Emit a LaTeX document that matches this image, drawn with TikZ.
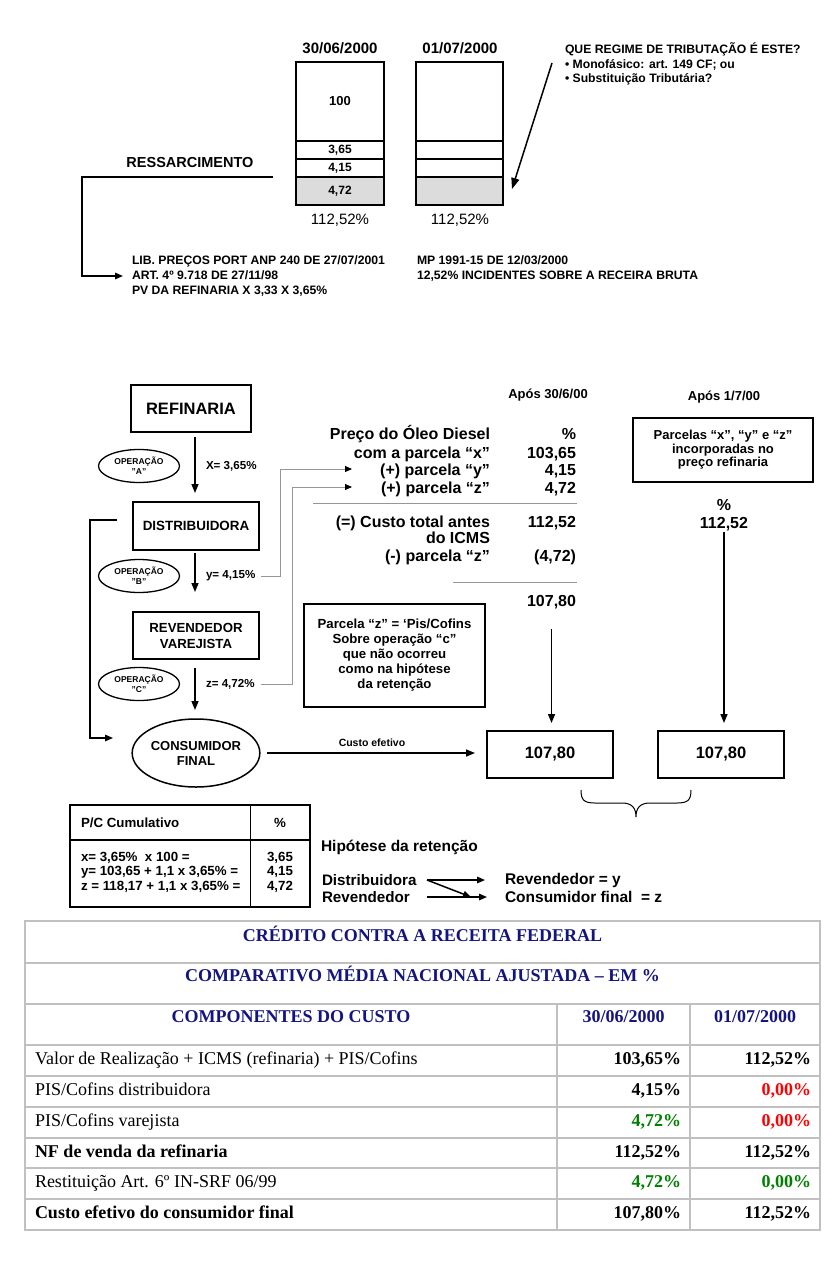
\documentclass[tikz,border=0pt]{standalone}
\usepackage{fontspec}
\setmainfont{Liberation Sans}
\newfontfamily\tnr{Liberation Serif}
\usetikzlibrary{shapes.geometric,arrows.meta}
\newcommand\myfs[2]{\fontsize{#1}{#2}\selectfont}
\definecolor{navyt}{RGB}{20,20,128}
\definecolor{okgreen}{RGB}{0,128,0}
\definecolor{tgrid}{RGB}{192,192,192}
\definecolor{shadec}{RGB}{220,220,220}
\definecolor{gline}{RGB}{150,150,150}
\begin{document}
\begin{tikzpicture}[x=1pt,y=-1pt,
  every node/.style={inner sep=0pt,outer sep=0pt},
  cell/.style={draw,line width=1.6pt,minimum width=88pt,font=\bfseries\myfs{12}{14}},
  bx/.style={draw,line width=1.5pt,align=center},
  opel/.style={draw,ellipse,line width=1.3pt,minimum width=81pt,minimum height=33pt,align=center,font=\bfseries\myfs{8.5}{10}},
  arr/.style={line width=1.5pt,-{Triangle[length=9pt,width=7pt]}},
  thinarr/.style={line width=1.5pt,-{Triangle[length=8pt,width=6.5pt]}},
  garr/.style={draw=gline,line width=0.9pt,-{Triangle[length=7pt,width=6pt,color=black]}},
  rule/.style={draw=gline,line width=1pt},
  lbl/.style={font=\bfseries\myfs{11.6}{13},anchor=west},
  big/.style={font=\bfseries\myfs{16}{18}},
  tg/.style={draw=tgrid,line width=2pt},
  ttl/.style={font=\tnr\bfseries\myfs{18}{20},text=navyt,anchor=base},
  tl/.style={font=\tnr\myfs{18}{20},anchor=base west},
  tv/.style={font=\tnr\bfseries\myfs{18}{20},anchor=base east}
]
\useasboundingbox (0,0) rectangle (834,1261);
\fill[white] (0,0) rectangle (834,1261);

% ---------------- top section ----------------
\node[font=\bfseries\myfs{15}{16}] (d1) at (340,48) {30/06/2000};
\node[font=\bfseries\myfs{15}{16}] (d2) at (460,48) {01/07/2000};

\node[cell,minimum height=79pt,font=\bfseries\myfs{13}{14}] (l100) at (340,101.5) {100};
\node[cell,minimum height=18pt] (l365) at (340,150) {3,65};
\node[cell,minimum height=18pt] (l415) at (340,168) {4,15};
\node[cell,minimum height=28pt,fill=shadec] (l472) at (340,191) {4,72};

\node[cell,minimum width=87pt,minimum height=79pt] (r100) at (459.5,101.5) {};
\node[cell,minimum width=87pt,minimum height=18pt] (r365) at (459.5,150) {};
\node[cell,minimum width=87pt,minimum height=18pt] (r415) at (459.5,168) {};
\node[cell,minimum width=87pt,minimum height=28pt,fill=shadec] (r472) at (459.5,191) {};

\node[font=\myfs{15}{17}] (p1) at (340,220) {112,52\%};
\node[font=\myfs{15}{17}] (p2) at (460,220) {112,52\%};

\node[font=\bfseries\myfs{14.5}{16}] (ress) at (190,163) {RESSARCIMENTO};
\coordinate (rs) at (273,177);
\node[font=\bfseries\myfs{12.2}{15},align=left,anchor=west] (lib) at (132,276)
  {LIB. PREÇOS PORT ANP 240 DE 27/07/2001\\ART. 4º 9.718 DE 27/11/98\\PV DA REFINARIA X 3,33 X 3,65\%};
\draw[thinarr,shorten >=9pt] (rs) -- (82,177) |- (lib.west);

\node[font=\bfseries\myfs{12.2}{15},align=left,anchor=west] (mp) at (417,268.5)
  {MP 1991-15 DE 12/03/2000\\12,52\% INCIDENTES SOBRE A RECEIRA BRUTA};

\node[font=\bfseries\myfs{12.2}{14.5},align=left,anchor=north west] (que) at (565,43)
  {QUE REGIME DE TRIBUTAÇÃO É ESTE?\\• Monofásico: art. 149 CF; ou\\• Substituição Tributária?};
\coordinate (q0) at (552,63);
\coordinate (q1) at (512,189);
\draw[line width=1.5pt,-{Triangle[length=11pt,width=8pt]}] (q0) -- (q1);

% ---------------- middle flow ----------------
\coordinate (ax) at (195,0);
\node[bx,minimum width=120pt,minimum height=47pt,font=\bfseries\myfs{16.5}{18}] (refin) at (191,408.5) {REFINARIA};
\node[bx,minimum width=126pt,minimum height=48pt,font=\bfseries\myfs{13.4}{15}] (dist) at (196,526) {DISTRIBUIDORA};
\node[bx,minimum width=126pt,minimum height=47pt,font=\bfseries\myfs{13.2}{16}] (rev) at (196,635.5) {REVENDEDOR\\VAREJISTA};
\node[draw,ellipse,line width=1.5pt,minimum width=127pt,minimum height=68pt,align=center,font=\bfseries\myfs{13}{15}] (cons) at (196,753) {CONSUMIDOR\\FINAL};

\node[opel] (opA) at (139,466) {OPERAÇÃO\\"A"};
\node[opel] (opB) at (139,576) {OPERAÇÃO\\"B"};
\node[opel] (opC) at (139,684) {OPERAÇÃO\\"C"};

\node[lbl] (xlab) at (206,466) {X= 3,65\%};
\node[lbl] (ylab) at (206,576) {y= 4,15\%};
\node[lbl] (zlab) at (206,684) {z= 4,72\%};

\draw[arr,shorten <=5pt,shorten >=9pt] (refin.south -| ax) -- (dist.north -| ax);
\draw[arr,shorten <=3pt,shorten >=20pt] (dist.south -| ax) -- (rev.north -| ax);
\draw[arr,shorten <=9pt,shorten >=9pt] (rev.south -| ax) -- (cons.north -| ax);

\coordinate (l0) at (117,520);
\coordinate (l1) at (113,738);
\draw[thinarr] (l0) -- (90,520) |- (l1);

% ---------------- price computation ----------------
\node[font=\bfseries\myfs{13}{15}] (ap1) at (548,395) {Após 30/6/00};
\node[font=\bfseries\myfs{13}{15}] (ap2) at (724,397) {Após 1/7/00};

\node[big,anchor=base east] (pre) at (490,439) {Preço do Óleo Diesel};
\node[big,anchor=base east] (prep) at (576,439) {\%};
\node[big,anchor=base east] (cx) at (490,458) {com a parcela “x”};
\node[big,anchor=base east] (cxv) at (576,458) {103,65};
\node[big,anchor=base east] (py) at (490,475) {(+) parcela “y”};
\node[big,anchor=base east] (pyv) at (576,475) {4,15};
\node[big,anchor=base east] (pz) at (490,493) {(+) parcela “z”};
\node[big,anchor=base east] (pzv) at (576,493) {4,72};
\draw[rule] (313,503) -- (577,503);
\node[big,anchor=base east] (ct) at (490,527) {(=) Custo total antes};
\node[big,anchor=base east] (ctv) at (576,527) {112,52};
\node[big,anchor=base east] (icms) at (490,543) {do ICMS};
\node[big,anchor=base east] (mz) at (490,561) {(-) parcela “z”};
\node[big,anchor=base east] (mzv) at (576,561) {(4,72)};
\draw[rule] (453,582) -- (577,582);
\node[big,anchor=base east] (v) at (576,606) {107,80};

\coordinate (gyE) at (352,469);
\coordinate (gzE) at (352,487);
\draw[garr] ([xshift=6pt]ylab.east) -| (280,469) -- (gyE);
\draw[garr] ([xshift=6pt]zlab.east) -| (292,487) -- (gzE);

\node[bx,minimum width=181pt,minimum height=103pt,font=\bfseries\myfs{13.2}{15}] (pzbox) at (394.5,655.5)
  {Parcela “z” = `Pis/Cofins\\Sobre operação “c”\\que não ocorreu\\como na hipótese\\da retenção};

\node[bx,minimum width=180pt,minimum height=64pt,font=\bfseries\myfs{13}{13.6}] (pbox) at (723,450)
  {Parcelas “x”, “y” e “z”\\incorporadas no\\preço refinaria};
\node[big] (pc2) at (724,505) {\%};
\node[big] (t2) at (724,524) {112,52};

\node[bx,minimum width=126pt,minimum height=47pt,font=\bfseries\myfs{16.5}{18}] (r1) at (550,754.5) {107,80};
\node[bx,minimum width=126pt,minimum height=47pt,font=\bfseries\myfs{16.5}{18}] (r2) at (721,754.5) {107,80};

\draw[arr,shorten <=21pt,shorten >=8pt] (v.south) -- (v.south |- r1.north);
\draw[arr,shorten <=1pt,shorten >=8pt] (t2.south) -- (t2.south |- r2.north);
\draw[arr,shorten <=7pt,shorten >=12pt] (cons.east) -- (cons.east -| r1.west);
\node[font=\bfseries\myfs{10.5}{12}] (ce) at (372,743) {Custo efetivo};

% brace
\draw[line width=1pt] (581,790) .. controls (581,800) and (584,803) .. (595,803) -- (622,803)
  .. controls (632,803) and (636,808) .. (636,817) .. controls (636,808) and (640,803) .. (650,803)
  -- (677,803) .. controls (688,803) and (691,800) .. (691,790);

% ---------------- P/C cumulativo table ----------------
\draw[line width=1.8pt] (70,805) rectangle (310,907);
\draw[line width=1.8pt] (250.5,805) -- (250.5,907);
\draw[line width=1.8pt] (70,840) -- (310,840);
\node[font=\bfseries\myfs{13.3}{15},anchor=west] (pch) at (81,823) {P/C Cumulativo};
\node[font=\bfseries\myfs{13.3}{15}] (pcp) at (280,823) {\%};
\node[font=\bfseries\myfs{13.3}{14.5},align=left,anchor=west] (pcr) at (81,872)
  {x= 3,65\%\ \ x 100 =\\y= 103,65 + 1,1 x 3,65\% =\\z = 118,17 + 1,1 x 3,65\% =};
\node[font=\bfseries\myfs{13.3}{14.5},align=center] (pcv) at (280,872) {3,65\\4,15\\4,72};

% ---------------- hipotese ----------------
\node[font=\bfseries\myfs{15.5}{17},anchor=west] (hip) at (321,847) {Hipótese da retenção};
\node[font=\bfseries\myfs{15.2}{17},anchor=west] (hdi) at (322,880) {Distribuidora};
\node[font=\bfseries\myfs{15.2}{17},anchor=west] (hre) at (322,897) {Revendedor};
\node[font=\bfseries\myfs{15.5}{17},anchor=west] (ry) at (505,880) {Revendedor = y};
\node[font=\bfseries\myfs{15.5}{17},anchor=west] (cf) at (505,897) {Consumidor final\ \ = z};
\coordinate (hd) at (427,880);
\coordinate (hr) at (427,897);
\coordinate (hdg) at (471,897);
\draw[thinarr,shorten >=20pt] (hd) -- (ry.west);
\draw[thinarr] (hd) -- (hdg);
\draw[thinarr,shorten >=18pt] (hr) -- (cf.west);

% ---------------- bottom table ----------------
\draw[tg] (25,921) rectangle (820,1230);
\foreach \yy in {963,1004,1045,1076,1107,1138,1168,1199} \draw[tg] (25,\yy) -- (820,\yy);
\draw[tg] (557,1004) -- (557,1230);
\draw[tg] (690,1004) -- (690,1230);

\node[ttl] (t1) at (422.5,941) {CRÉDITO CONTRA A RECEITA FEDERAL};
\node[ttl] (t2b) at (422.5,981) {COMPARATIVO MÉDIA NACIONAL AJUSTADA – EM \%};
\node[ttl] (h1) at (291,1022) {COMPONENTES DO CUSTO};
\node[ttl] (h2) at (623.5,1022) {30/06/2000};
\node[ttl] (h3) at (755,1022) {01/07/2000};

\node[tl] (a1) at (35,1064) {Valor de Realização + ICMS (refinaria) + PIS/Cofins};
\node[tv] (a2) at (681,1064) {103,65\%};
\node[tv] (a3) at (811,1064) {112,52\%};
\node[tl] (b1) at (35,1095) {PIS/Cofins distribuidora};
\node[tv] (b2) at (681,1095) {4,15\%};
\node[tv,text=red] (b3) at (811,1095) {0,00\%};
\node[tl] (c1) at (35,1126) {PIS/Cofins varejista};
\node[tv,text=okgreen] (c2) at (681,1126) {4,72\%};
\node[tv,text=red] (c3) at (811,1126) {0,00\%};
\node[tl,font=\tnr\bfseries\myfs{18}{20}] (e1) at (35,1157) {NF de venda da refinaria};
\node[tv] (e2) at (681,1157) {112,52\%};
\node[tv] (e3) at (811,1157) {112,52\%};
\node[tl] (f1) at (35,1187) {Restituição Art. 6º IN-SRF 06/99};
\node[tv,text=okgreen] (f2) at (681,1187) {4,72\%};
\node[tv,text=okgreen] (f3) at (811,1187) {0,00\%};
\node[tl,font=\tnr\bfseries\myfs{18}{20}] (g1) at (35,1218) {Custo efetivo do consumidor final};
\node[tv] (g2) at (681,1218) {107,80\%};
\node[tv] (g3) at (811,1218) {112,52\%};
\end{tikzpicture}
\end{document}
